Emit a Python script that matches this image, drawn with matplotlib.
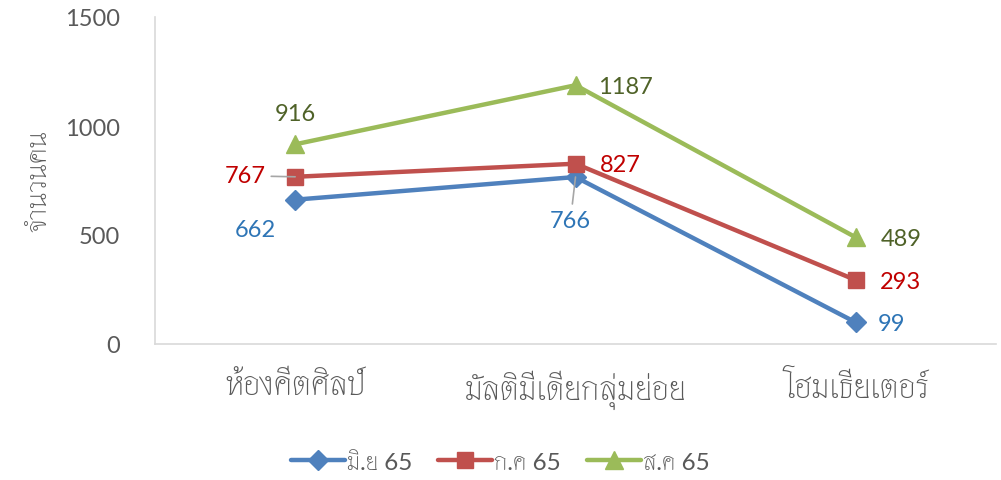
import matplotlib
matplotlib.use("Agg")
import matplotlib.pyplot as plt

categories = ["ห้องคีตศิลป์", "มัลติมีเดียกลุ่มย่อย", "โฮมเธียเตอร์"]
series_names = ["มิ.ย 65", "ก.ค 65", "ส.ค 65"]
jun = [662, 766, 99]
jul = [767, 827, 293]
aug = [916, 1187, 489]
y_ticks = [0, 500, 1000, 1500]
y_label = "จำนวนคน"

FAM = ["Lato", "Thasadith", "DejaVu Sans"]
plt.rcParams["font.family"] = FAM
TXT = "#595959"

W, H = 1001, 481
fig = plt.figure(figsize=(W / 100, H / 100), dpi=100)
ax = fig.add_axes([155 / W, 1 - 345 / H, (996 - 155) / W, (345 - 18) / H])

line_colors = ["#4F81BD", "#C0504D", "#9BBB59"]
label_colors = ["#2E75B6", "#C00000", "#4F6228"]
markers = ["D", "s", "^"]
msizes = [10, 12, 13]
data = [jun, jul, aug]
x = list(range(len(categories)))

for vals, name, c, m, ms in zip(data, series_names, line_colors, markers, msizes):
    ax.plot(x, vals, color=c, lw=3.2, marker=m, markersize=ms, label=name,
            solid_capstyle="round", zorder=3)

# label offsets in pixels (dx, dy up), converted to points
offsets = [
    [(-40, -30), (-5, -43), (36, -1)],
    [(-50, 1), (45, -1), (45, -1)],
    [(0, 31), (50, -1), (45, -1)],
]
leaders = {(1, 0): True, (0, 1): True}
for si, (vals, lc) in enumerate(zip(data, label_colors)):
    for ci, v in enumerate(vals):
        dx, dy = offsets[si][ci]
        kw = {}
        if (si, ci) in leaders:
            kw["arrowprops"] = dict(arrowstyle="-", color="#A6A6A6", lw=1.2,
                                    shrinkA=2, shrinkB=0)
        ax.annotate(str(v), (ci, v), xytext=(dx * 0.72, dy * 0.72),
                    textcoords="offset points", ha="center", va="center",
                    fontsize=17, color=lc, zorder=4, **kw)

ax.set_xlim(-0.5, 2.5)
ax.set_ylim(0, 1500)
ax.set_yticks(y_ticks)
ax.set_xticks(x)
ax.set_xticklabels(categories, fontsize=24)
ax.tick_params(axis="both", length=0, labelcolor=TXT)
ax.tick_params(axis="y", pad=25, labelsize=17)
ax.tick_params(axis="x", pad=18.5)
for s in ["top", "right"]:
    ax.spines[s].set_visible(False)
for s in ["left", "bottom"]:
    ax.spines[s].set_color("#D9D9D9")
    ax.spines[s].set_linewidth(1.2)
ax.set_ylabel(y_label, fontsize=21, color=TXT)
ax.yaxis.set_label_coords(-0.123, 0.5)

leg = fig.legend(loc="center", bbox_to_anchor=(0.5, 1 - 463 / H), ncol=3,
                 frameon=False, fontsize=17.5, handlelength=2.2,
                 handletextpad=0.1, columnspacing=1.07, labelcolor=TXT)

fig.savefig("out.png", dpi=100)
